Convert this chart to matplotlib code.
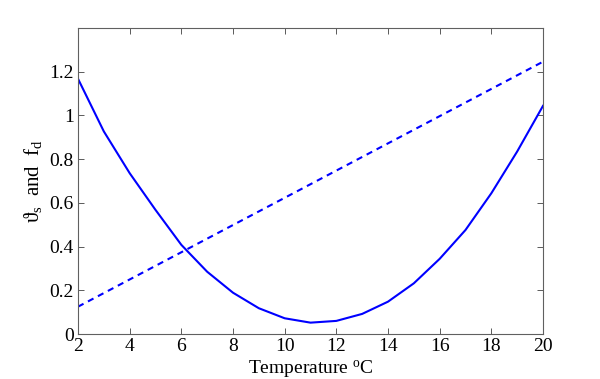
import matplotlib
matplotlib.use("Agg")
import matplotlib.pyplot as plt

# solid curve, theta_s, read at integer temperatures
temp = [2, 3, 4, 5, 6, 7, 8, 9, 10, 11, 12, 13, 14, 15, 16, 17, 18, 19, 20]
theta_s = [1.168, 0.927, 0.736, 0.568, 0.408, 0.285, 0.189, 0.118, 0.072,
           0.052, 0.060, 0.092, 0.148, 0.232, 0.344, 0.476, 0.644, 0.835, 1.044]

# dashed line, f_d (straight line)
temp_fd = [2, 20]
f_d = [0.125, 1.246]

plt.rcParams["font.family"] = ["Liberation Serif", "DejaVu Serif"]
plt.rcParams["mathtext.fontset"] = "custom"
plt.rcParams["mathtext.rm"] = "Liberation Serif"
plt.rcParams["mathtext.it"] = "Liberation Serif"

fig = plt.figure(figsize=(6, 3.79), dpi=100)
ax = fig.add_axes([0.13, 0.1187, 0.775, 0.8073])

ax.plot(temp, theta_s, color="#0000ff", linewidth=1.5)
ax.plot(temp_fd, f_d, color="#0000ff", linewidth=1.5, linestyle=(0, (3.0, 2.4)))

ax.set_xlim(2, 20)
ax.set_ylim(0, 1.4)
ax.set_xticks(range(2, 21, 2))
ax.set_yticks([0, 0.2, 0.4, 0.6, 0.8, 1.0, 1.2])
ax.set_yticklabels(["0", "0.2", "0.4", "0.6", "0.8", "1", "1.2"])

ax.tick_params(direction="in", top=True, right=True, length=4, width=0.6,
               color="#404040", labelsize=14, pad=3)
for s in ax.spines.values():
    s.set_color("#606060")
    s.set_linewidth(0.8)

ax.set_xlabel("Temperature $^{\\rm o}$C", fontsize=14, labelpad=2)
ax.set_ylabel("\u03d1$_{\\rm s}$  and  f$_{\\rm d}$", fontsize=15, labelpad=4)

fig.savefig("out.png", dpi=100)
